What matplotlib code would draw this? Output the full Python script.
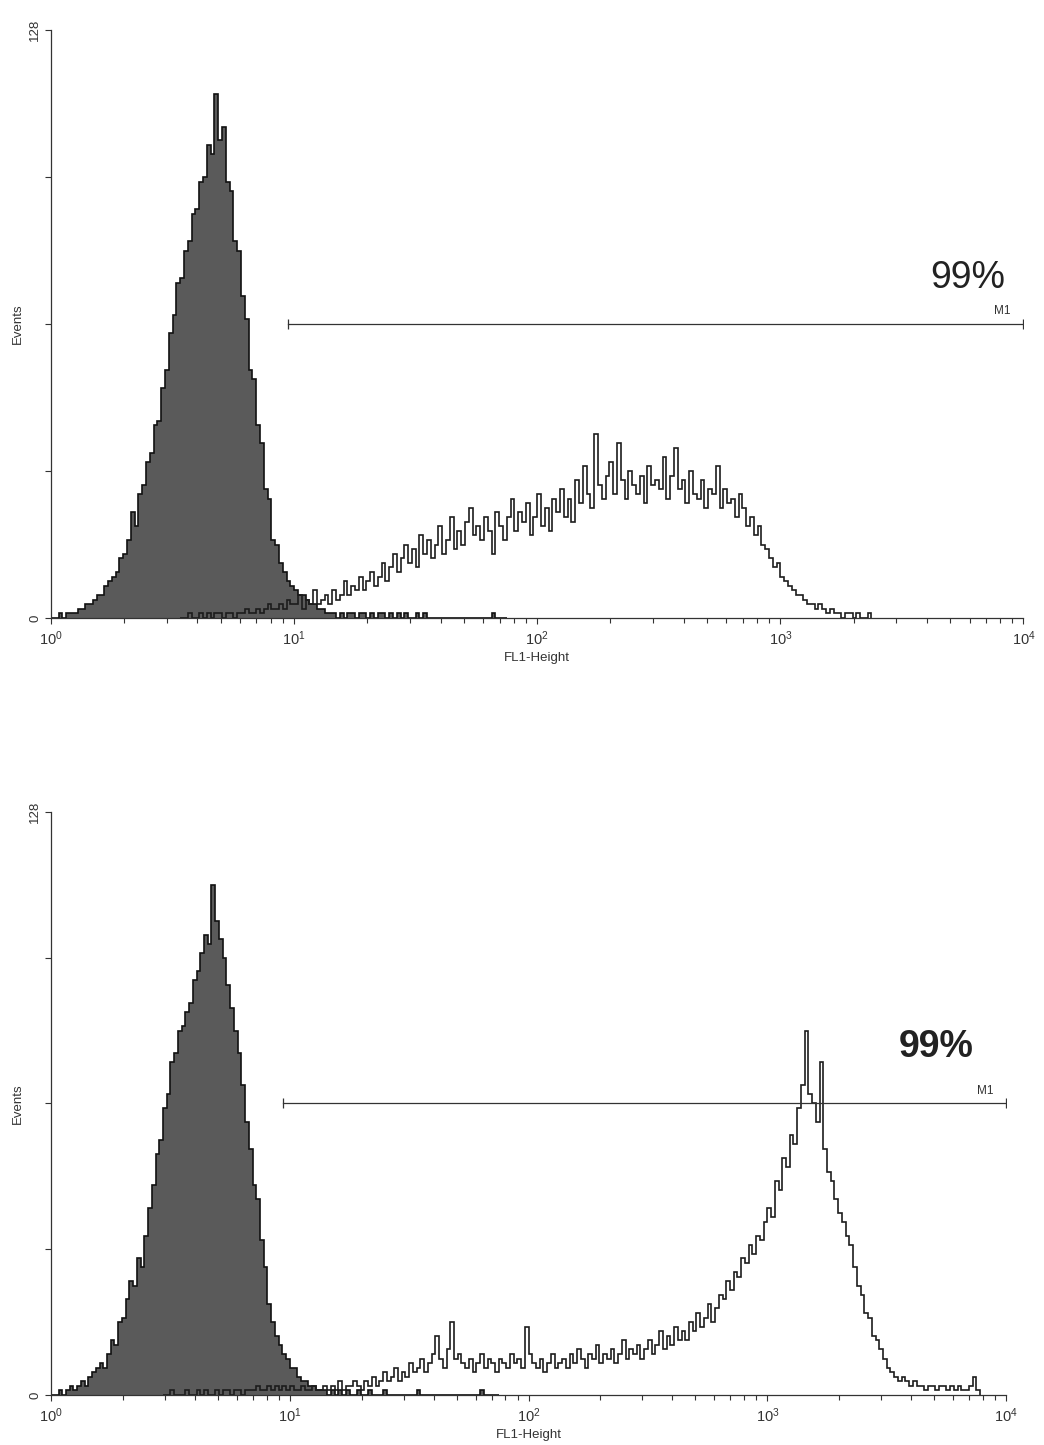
import numpy as np
import matplotlib.pyplot as plt
from matplotlib.ticker import LogLocator, NullFormatter

plt.rcParams['font.family'] = ['Liberation Sans', 'DejaVu Sans']
plt.rcParams['mathtext.default'] = 'regular'

bins_per_decade = 64

# top: control (filled) and stained (open)
top_control_start = 0
top_control = [
    0, 0, 1, 0, 1, 1, 1, 2, 2, 3,
    3, 4, 5, 5, 7, 8, 9, 10, 13, 14,
    17, 23, 20, 27, 29, 34, 36, 42, 43, 50,
    54, 62, 66, 73, 74, 80, 82, 88, 89, 95,
    96, 103, 101, 114, 104, 107, 95, 93, 82, 80,
    70, 65, 54, 52, 42, 38, 28, 26, 17, 16,
    12, 10, 8, 7, 6, 5, 5, 4, 3, 3,
    2, 2, 1, 1, 1, 0, 1, 0, 1, 1,
    0, 1, 1, 0, 1, 0, 1, 1, 0, 1,
    0, 1, 0, 1, 0, 0, 1, 0, 1, 0,
    0, 0, 0, 0, 0, 0, 0, 0, 0, 0,
    0, 0, 0, 0, 0, 0, 1, 0, 0, 0,
]
top_stained_start = 34
top_stained = [
    0, 0, 1, 0, 0, 1, 0, 1, 0, 1,
    1, 0, 1, 1, 0, 1, 1, 2, 1, 1,
    2, 1, 2, 3, 2, 2, 3, 2, 4, 3,
    3, 5, 2, 4, 3, 6, 3, 4, 5, 3,
    6, 4, 5, 8, 5, 7, 6, 9, 6, 8,
    10, 7, 9, 12, 8, 11, 14, 10, 13, 16,
    12, 15, 11, 18, 14, 17, 13, 16, 20, 14,
    17, 22, 15, 19, 16, 21, 24, 18, 20, 17,
    22, 19, 14, 23, 20, 17, 22, 26, 19, 23,
    21, 25, 18, 22, 27, 20, 24, 19, 26, 23,
    28, 22, 26, 21, 30, 25, 33, 27, 24, 40,
    29, 26, 31, 34, 27, 38, 30, 26, 32, 29,
    27, 31, 25, 33, 29, 30, 28, 35, 26, 31,
    37, 28, 30, 25, 32, 27, 26, 30, 24, 28,
    27, 33, 24, 28, 25, 26, 22, 27, 24, 20,
    22, 18, 20, 16, 15, 13, 11, 12, 9, 8,
    7, 6, 5, 5, 4, 3, 3, 2, 3, 2,
    1, 2, 1, 1, 0, 1, 1, 0, 1, 0,
    0, 1,
]

# bottom: control (filled) and stained (open)
bottom_control_start = 0
bottom_control = [
    0, 0, 1, 0, 1, 2, 1, 2, 3, 2,
    4, 5, 6, 7, 6, 9, 12, 11, 16, 17,
    21, 25, 24, 30, 28, 35, 41, 46, 53, 56,
    63, 66, 73, 75, 80, 81, 84, 86, 91, 93,
    97, 101, 99, 112, 104, 100, 96, 90, 85, 80,
    75, 68, 60, 54, 46, 43, 34, 28, 20, 16,
    13, 11, 9, 8, 6, 6, 4, 3, 3, 2,
    2, 1, 1, 1, 0, 1, 0, 1, 0, 1,
    0, 0, 1, 0, 0, 1, 0, 0, 0, 1,
    0, 0, 0, 0, 0, 0, 0, 0, 1, 0,
    0, 0, 0, 0, 0, 0, 0, 0, 0, 0,
    0, 0, 0, 0, 0, 1, 0, 0, 0, 0,
]
bottom_stained_start = 30
bottom_stained = [
    0, 0, 1, 0, 0, 0, 1, 0, 0, 1,
    0, 1, 0, 0, 1, 0, 1, 1, 0, 1,
    1, 0, 1, 1, 1, 2, 1, 1, 2, 1,
    2, 1, 2, 1, 2, 1, 1, 2, 1, 1,
    2, 1, 1, 2, 1, 2, 1, 3, 1, 2,
    2, 3, 2, 1, 3, 2, 4, 2, 3, 5,
    3, 4, 6, 3, 5, 4, 7, 5, 6, 8,
    5, 7, 9, 13, 8, 6, 10, 16, 8, 9,
    7, 6, 8, 5, 7, 9, 6, 8, 7, 5,
    8, 7, 6, 9, 7, 8, 6, 15, 9, 7,
    6, 8, 5, 7, 9, 6, 7, 8, 6, 9,
    7, 10, 8, 6, 9, 8, 11, 7, 9, 8,
    10, 7, 9, 12, 8, 10, 9, 11, 8, 10,
    12, 9, 11, 14, 10, 13, 11, 15, 12, 14,
    12, 16, 14, 18, 15, 17, 20, 16, 19, 22,
    21, 25, 23, 27, 26, 30, 29, 33, 31, 35,
    34, 38, 41, 39, 47, 45, 52, 50, 57, 55,
    63, 68, 80, 66, 64, 60, 73, 54, 49, 47,
    43, 40, 38, 35, 33, 28, 24, 22, 18, 17,
    13, 12, 10, 8, 6, 5, 4, 3, 4, 3,
    2, 3, 2, 2, 1, 2, 2, 1, 2, 2,
    1, 2, 1, 2, 1, 1, 2, 4, 1,
]

# M1 marker region and percentage
gate_lo = 9.4
gate_hi = 10000
gate_y = 64
gate_pct = ['99%', '99%']

decades = [1, 10, 100, 1000, 10000]
decade_labels = [r'$10^{0}$', r'$10^{1}$', r'$10^{2}$', r'$10^{3}$', r'$10^{4}$']
y_ticks = [0, 32, 64, 96, 128]
y_labels = ['0', '', '', '', '128']


def edges(start, vals):
    return 10 ** ((start + np.arange(len(vals) + 1)) / bins_per_decade)


def panel(ax, c_start, ctrl, s_start, stained, pct, bold, pct_x, pct_y):
    ce = edges(c_start, ctrl)
    ax.stairs(ctrl, ce, fill=True, color='#5a5a5a', lw=0)
    ax.stairs(ctrl, ce, color='#111111', lw=1.2)
    ax.stairs(stained, edges(s_start, stained), color='#1c1c1c', lw=1.2)

    ax.plot([gate_lo, gate_hi], [gate_y, gate_y], color='#333333', lw=0.9,
            marker='|', ms=7, mew=0.9)
    ax.text(8200, gate_y + 1.5, 'M1', fontsize=8.5, color='#333333',
            ha='center', va='bottom')
    ax.text(pct_x, pct_y, pct, fontsize=27, color='#222222', ha='center',
            va='center', fontweight='bold' if bold else 'normal')

    ax.set_xscale('log')
    ax.set_xlim(1, 10000)
    ax.set_ylim(0, 128)
    ax.set_xticks(decades)
    ax.set_xticklabels(decade_labels)
    ax.xaxis.set_minor_locator(LogLocator(base=10, subs=range(2, 10)))
    ax.xaxis.set_minor_formatter(NullFormatter())
    ax.set_yticks(y_ticks)
    ax.set_yticklabels(y_labels, rotation=90, va='center')
    ax.tick_params(axis='x', which='major', direction='out', length=4,
                   width=0.8, colors='#333333', labelsize=10.5, pad=4)
    ax.tick_params(axis='y', which='major', direction='out', length=4,
                   width=0.8, colors='#333333', labelsize=9.5, pad=3)
    ax.tick_params(axis='x', which='minor', direction='out', length=3.5,
                   width=0.8, colors='#333333')
    for s in ['top', 'right']:
        ax.spines[s].set_visible(False)
    for s in ['left', 'bottom']:
        ax.spines[s].set_color('#333333')
        ax.spines[s].set_linewidth(0.9)
    ax.set_xlabel('FL1-Height', fontsize=9.5, color='#333333', labelpad=3)
    ax.set_ylabel('Events', fontsize=9.5, color='#333333', labelpad=4)


fig = plt.figure(figsize=(10.44, 14.45), dpi=100)
ax1 = fig.add_axes([0.0489, 0.5723, 0.9314, 0.4069])
ax2 = fig.add_axes([0.0489, 0.0346, 0.9148, 0.4035])

panel(ax1, top_control_start, top_control, top_stained_start, top_stained,
      gate_pct[0], False, 5900, 74)
panel(ax2, bottom_control_start, bottom_control, bottom_stained_start,
      bottom_stained, gate_pct[1], True, 5100, 76.5)

fig.savefig('out.png', dpi=100)
